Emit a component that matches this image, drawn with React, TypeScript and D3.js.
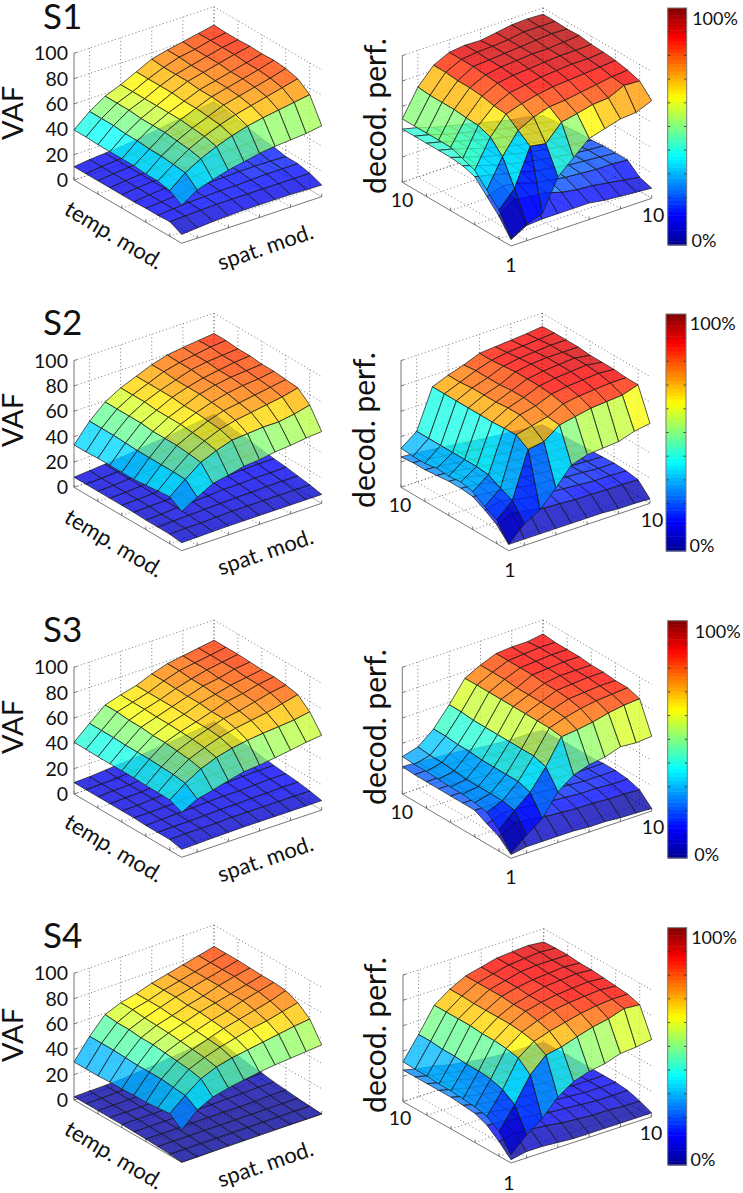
import React from "react";
import * as d3 from "d3";

// ---------- data: rows run along temp. mod. index (front to left), columns along spat. mod. index (front to right)
const vafS1Top = [
  [30,38,42,45.5,48,50.5,52,53,54,56],
  [36,46,53,58.5,63,66.5,69,71,73,75],
  [38,47,55,61,66,70,73,76,79,82],
  [38,48,56,62,67,72,75,78,81,84.5],
  [39,48,57,63,68,73,76,79,82,85.5],
  [39,49,57,63,68,73,76,79,82,85],
  [39,49,57,63,69,74,77,80,83,85.5],
  [39,50,58,63,69,74,77,80,83,85],
  [39.5,50,58,63,69,74,78,80,83,85],
  [39.5,50,58,63,69,75,78,80.5,83,85.5],
];
const vafS1Low = [
  [7,8,9,9.5,10,10,10,10,9.5,9.2],
  [11.6,12,12.5,13,13,13,13,13,13,13],
  [11,12,13,13.5,14,14,14.5,15,15,15],
  [11,12,13,14,14.5,15,15.5,15.5,15.5,15],
  [10.5,12,13,14,15,15.5,16,16.5,17,17],
  [10.5,12,13,14,15,16,17,17.5,18,18],
  [10.5,12,13,14,15,16,17.5,19,19.5,20],
  [10.5,12,13,14,15,16.5,18,20,21,22],
  [10.5,12,13,14,15.5,17,18.5,20.5,22,24],
  [10.5,12,13,14,15.5,17,19,21,23,25],
];
const vafS2Top = [
  [31,38,44.7,47,50,51,53,54,55.7,56.6],
  [37,46.6,55.8,61,65,66,67,67,69,72],
  [36,47,57,63,68,71,73,75,77,80],
  [35,47,58,64,69,73,75,77,79,81],
  [34,47,58,65,70,74,77,79,80,82],
  [34,47,58,65,70,75,78,80,81,82],
  [34,47.5,59,65,71,75,78,80,82,83],
  [34,48,59,66,71,75,79,81,82,83],
  [33.5,48,59,66,71,76,79,81,83,84],
  [33.4,48,59,66,71,76,79.5,81.3,82.6,84],
];
const vafS2Low = [
  [6.3,6.5,6.8,7,7,7,7,7,7,7],
  [7.5,8,8,8.5,9,9,9,9,9,9],
  [7.5,8,8.5,9,9.5,10,10,10.5,10.5,10.5],
  [7.5,8,9,9.5,10,11,11,11.5,11.5,12],
  [8,8.5,9,10,11,11.5,12,12.5,13,13],
  [8,8.5,9,10,11,12,13,13.5,14,14.5],
  [8,8.5,9.5,10.5,11.5,12.5,13.5,14.5,15,16],
  [8,8.5,9.5,10.5,12,13,14,15,16,17],
  [8,8.5,9.5,11,12,13.5,15,16,17,18.5],
  [8,9,10,11,12.5,14,15,17,18.5,20],
];
const vafS3Top = [
  [35.5,41.8,44.7,48,51,52,53.7,55.5,57.6,59],
  [39.7,48.7,56,60.8,64,66,67.5,68.5,69.7,72],
  [40,50,58,63,67,70,72,74,77,80],
  [40,50.5,59,64,68,72,74,77,80,82],
  [40.5,51,60,64.5,68,72,76,78,81,83],
  [40.5,51,60,65,68.5,73,76,79,81,83],
  [40.5,51,61,65,69,73,77,79,82,83.5],
  [40.5,51.5,61,65.5,69,73.5,77,80,82,84],
  [40.8,51.5,62,65.5,69,74,78,80,82,84],
  [40.8,51.6,62,65.8,69,74,78,80,82,84],
];
const vafS3Low = [
  [6.3,6.6,7,7.2,7.4,7.4,7.4,7.4,7.4,7.4],
  [8.5,9,9,9,9.5,9.5,9.5,9.5,9.5,9.5],
  [8.5,9,9,9.5,10,10,10.5,10.5,11,11],
  [8.5,9,9.5,10,10.5,11,11,11.5,12,12],
  [9,9,9.5,10,11,11.5,12,12.5,13,13],
  [9,9,10,10.5,11,12,13,13.5,14,14.5],
  [9,9.5,10,11,11.5,12.5,13.5,14.5,15,16],
  [9,9.5,10,11,12,13,14,15,16,17],
  [9,9.5,10,11,12,13.5,15,16,17,18.5],
  [9,9.5,10.5,11.5,12.5,14,15,16.5,18,19.7],
];
const vafS4Top = [
  [25.5,37,43,46,48,50,51.5,52.5,53.5,54.5],
  [33,43,52,57,60,62,64,66,68,69.5],
  [32,44,54,59,63,66,69,71,74,77],
  [31,45,55,60,64,68,71,74,77,81],
  [31,45,56,61,65,69,72,76,79,82],
  [30.5,45,57,62,66,70,73,76,79,82],
  [30.5,45.5,57,62.5,66,70,73,77,80,82.5],
  [30,46,58,63,67,71,74,77,80,83],
  [30,46,58,64,67,71,74,77,80,83],
  [30,46,59,64,67,71,74,77,80,83],
];
const vafS4Low = [
  [0,0,0.2,0.3,0.3,0.3,0.3,0.2,0.1,0],
  [1,1,1,1,1,1,1,1,1,0.8],
  [1.5,1.5,1.5,1.5,1.5,1.5,1.5,1.5,1.5,1.5],
  [2,2,2,2,2,2,2,2,2.5,2.5],
  [2.2,2.2,2.2,2.3,2.5,2.5,3,3,3.5,3.5],
  [2.5,2.5,2.5,2.5,3,3,3.5,4,4.5,5],
  [2.5,2.5,2.5,3,3,3.5,4,5,5.5,6],
  [2.6,2.6,2.8,3,3.5,4,5,6,7,8],
  [2.6,2.6,3,3.5,4,5,6,7,8,10],
  [2.6,2.8,3,3.5,4.5,5.5,7,8,10,12],
];
const decS1Top = [
  [6,13,17,42,53,64,67.5,71,72,77],
  [22.8,35.6,64.7,62.6,75.4,78,81,82,87.7,87],
  [33,55,71.7,78,82,83,85,87,89,90],
  [43,65,79,83,86,88,89,90,91,92],
  [46.6,68.5,80,86,88,90,91,92,92,93],
  [50,69,82,88,90,91,92,93,93,93.5],
  [50,70,83,89,91,92,93,93,94,95],
  [50,70,83,90,91,92,93,94,95,94.5],
  [50,70,84,90,91.5,92,93,95,95,95],
  [50,71,84,90,91.5,91,93,95,95.5,95],
];
const decS1Low = [
  [5,12,13,13,13,13,11,10,9,8],
  [18,27,25,24,20,18,17,15,13,11],
  [28,32,30,26,24,22,21,20,20,19],
  [38,35,32,29,26,24,22,21,20,19],
  [41,37,33,30,27,25,23,21,20,19],
  [42,38,34,31,28,25,23,21,19,18],
  [42,39,35,31,28,25,23,21,19,18],
  [42,39,35,32,28,26,23,21,19,17],
  [42,39,35,32,29,26,23,21,19,16],
  [42,39,35,32,29,26,23,20,18,15],
];
const decS2Top = [
  [5,17,24,37,51,55,56,57,61,63],
  [18.7,30,66,68,77,79.5,82,83,84,88],
  [23.7,34,72,75,78,84,86,87,88,88],
  [30,39,71.6,78,81,86,88,89,90,89],
  [32,40,71,78,82,87,89,90,91,89],
  [31,40,71,77,82,87,89,90,91,89],
  [31.6,40,71,77,81,87,89,90,90,90],
  [30,40,71,77,81,86,88,89,90,90],
  [30,40,71,76,81,85,87,88,89,90],
  [30.8,40,71,76,80,85,86,87,88,89.5],
];
const decS2Low = [
  [5,5,5,5,5,5,5,4,4,3.4],
  [15,20,18,15.5,15,14,14,13.5,13.5,13],
  [21,24,21,19,18,17,16,15,15,14.5],
  [26,25,23,21,19,18,16.5,16,15,15],
  [27,26,23,21,19,18,16.5,15.5,15,14.5],
  [27,26,23,21,19,18,16.5,15.5,15,14],
  [26,25,23,21,19,17.5,16,15,14,13.5],
  [25,24,22,20.5,19,17,15.5,14.5,13.5,13],
  [25,24,22,20.5,18.5,17,15,14.5,13,12.5],
  [24,23,21.5,20,18.5,17,15.5,14.5,13,12],
];
const decS3Top = [
  [4,14,23,40,49,53,55,59,58,59],
  [17,28,38,54,73.7,75,77,80,82,83],
  [25,30,41,57,75,79,82,84,85,86],
  [27,30,41,57,75,80,84,85,86,86],
  [28,30,41,57,75,80,85,86,87,87],
  [28,30,41,57,75,80,85,87,87,87],
  [28.5,31,42,57,75,80,86,87,88,88],
  [29,32,42,57,75,81,86,87,88,88],
  [29,32,43,58,75,81,86,87,88,88],
  [29.5,33,43,58,74.7,81,86,87,87,89],
];
const decS3Low = [
  [3,5,5,5,5,4,4,3,2.5,2],
  [11.5,18,17,15,14,13,13,12,12,11],
  [16,20,20,18,17,16,15,15,14,14],
  [21,21,21,19,18,17,16,15,15,15],
  [21,21,21,20,18,17,16,15,15,15],
  [21,21,20,19,18,17,16,15,15,14],
  [21,21,20,19,18,17,16,15,14,14],
  [21,21,20,19,18,17,16,15,14,14],
  [21,21,20,19,18,16,15,15,14,13],
  [21.6,21,20,19,18,16,15,14,14,13],
];
const decS4Top = [
  [6.6,18,27,40,48,52,54,58,59,61],
  [19.5,36.5,56,67.6,70,74,77.6,80,84,83],
  [26,43,64,73,77,80,83,85,86,86],
  [28,46,66,75,80,84,86,87,88,87],
  [29,47,67,76,82,85,87,88,89,88],
  [30,47,67,76,82,85,88,89,90,89],
  [30,48,68,76,83,86,88,89,90,89],
  [31,48,68,76,83,86,89,90,90,90],
  [31,49,68,76.6,83,86,89,90,91,90],
  [31.6,49,68,76.6,83,86,89,90,90.8,89.5],
];
const decS4Low = [
  [2.6,5,5,4,3,3,3,3,3,3],
  [11.6,14,13,12,10,9,8,8,7,7],
  [19,18,16,15,13,12,11,10,10,10],
  [23,20,18,16,15,13,12,11,11,11],
  [24,21,19,17,15,14,12,11,11,11],
  [25,22,19,17,15,14,12,11,11,11],
  [25,22,19,17,15,14,12,11,11,11],
  [25,22,20,17,15,14,12,11,11,11],
  [25,22,20,17,15,13,12,11,11,10.5],
  [25,22,20,17,15,13,12,11,11,10.5],
];
const zTicks = [0, 20, 40, 60, 80, 100];
const gridTicks = [1, 3, 5, 7, 9];
const subjects = ["S1", "S2", "S3", "S4"];

// ---------- layout
type P = [number, number];
const FONT = "Lato, 'Open Sans', sans-serif";
const H = 126.7;
const vafBoxes: { front: P; left: P; right: P }[] = [
  { front: [181.7, 243.3], left: [74, 180], right: [321.7, 196.7] },
  { front: [181.7, 550.7], left: [74, 487.3], right: [321.7, 503.3] },
  { front: [181.7, 857.3], left: [74, 794], right: [321.7, 810] },
  { front: [181.7, 1162.3], left: [74, 1100], right: [321.7, 1114] },
];
const decBoxes: { front: P; left: P; right: P }[] = [
  { front: [511, 246], left: [402.3, 182.3], right: [651.7, 198.3] },
  { front: [508.7, 550.7], left: [401, 487.3], right: [650, 503.3] },
  { front: [511, 858.3], left: [402.3, 794], right: [651.7, 811] },
  { front: [511, 1163], left: [403, 1101.7], right: [651.7, 1116.7] },
];
const titleY = [29, 335, 642, 948];
const vafLabelY = [113, 420, 727, 1035];
const tempLabel: P[] = [[113, 237], [113, 545], [113, 850], [113, 1157]];
const spatLabel: P[] = [[266, 249], [266, 554], [266, 861], [266, 1166]];
const decLabel: P[] = [[386, 116], [375, 430], [386, 727], [386, 1035]];
const corner10L: P[] = [[402, 200], [400, 505], [401.7, 811.7], [400, 1118]];
const corner10R: P[] = [[653, 215], [652, 520], [653, 826.7], [651, 1133]];
const corner1: P[] = [[511, 265], [510, 570], [511, 876.7], [509, 1183]];
const bars = [
  { x0: 667.7, x1: 686.7, y0: 8, y1: 245, top: [715, 18] as P, bot: [704, 240] as P },
  { x0: 666, x1: 686, y0: 314, y1: 551, top: [712.7, 323] as P, bot: [702, 545] as P },
  { x0: 667.7, x1: 687.3, y0: 620.7, y1: 858, top: [717.7, 631.7] as P, bot: [706.7, 854] as P },
  { x0: 667.7, x1: 686.7, y0: 927.7, y1: 1165, top: [714, 937] as P, bot: [703, 1159] as P },
];

// ---------- colour
const jetCurve = d3.scaleLinear<string>()
  .domain([0, 0.125, 0.375, 0.625, 0.875, 1])
  .range(["#000090", "#0000ff", "#00ffff", "#ffff00", "#ff0000", "#800000"])
  .clamp(true);
const levelOf = d3.scaleQuantize<number>().domain([0, 100]).range(d3.range(64));
const jet = (z: number) => jetCurve((levelOf(z) + 0.5) / 64);

function Surface({ z, project }: { z: number[][]; project: (u: number, v: number, w: number) => P }) {
  const line = d3.line<P>();
  const faces: React.ReactNode[] = [];
  for (let v = z.length - 2; v >= 0; v--) {
    for (let u = z[0].length - 2; u >= 0; u--) {
      const pts: P[] = [
        project(u, v, z[v][u]),
        project(u + 1, v, z[v][u + 1]),
        project(u + 1, v + 1, z[v + 1][u + 1]),
        project(u, v + 1, z[v + 1][u]),
      ];
      faces.push(
        <path key={`${v}-${u}`} d={line(pts)! + "Z"} fill={jet(z[v][u])} fillOpacity={0.78}
          stroke="#1a1a1a" strokeOpacity={0.85} strokeWidth={0.85} strokeLinejoin="round" />
      );
    }
  }
  return <g>{faces}</g>;
}

function Panel({ box, top, low, showZ }: { box: { front: P; left: P; right: P }; top: number[][]; low: number[][]; showZ: boolean }) {
  const { front, left, right } = box;
  const uX = d3.scaleLinear().domain([0, 9]).range([0, right[0] - front[0]]);
  const uY = d3.scaleLinear().domain([0, 9]).range([0, right[1] - front[1]]);
  const vX = d3.scaleLinear().domain([0, 9]).range([0, left[0] - front[0]]);
  const vY = d3.scaleLinear().domain([0, 9]).range([0, left[1] - front[1]]);
  const zY = d3.scaleLinear().domain([0, 100]).range([0, -H]);
  const project = (u: number, v: number, w: number): P => [front[0] + uX(u) + vX(v), front[1] + uY(u) + vY(v) + zY(w)];
  const seg = (a: P, b: P, k: string, extra: any) => <line key={k} x1={a[0]} y1={a[1]} x2={b[0]} y2={b[1]} {...extra} />;
  const dotted = { stroke: "#555", strokeWidth: 0.8, strokeDasharray: "1 2.6" };
  const solid = { stroke: "#777", strokeWidth: 1 };
  return (
    <g>
      {zTicks.map((t) => (
        <g key={t}>
          {seg(project(0, 9, t), project(9, 9, t), `a${t}`, dotted)}
          {seg(project(9, 9, t), project(9, 0, t), `b${t}`, dotted)}
        </g>
      ))}
      {gridTicks.map((t) => (
        <g key={t}>
          {seg(project(t, 9, 0), project(t, 9, 100), `c${t}`, dotted)}
          {seg(project(9, t, 0), project(9, t, 100), `d${t}`, dotted)}
          {seg(project(t, 0, 0), project(t, 9, 0), `e${t}`, dotted)}
          {seg(project(0, t, 0), project(9, t, 0), `f${t}`, dotted)}
        </g>
      ))}
      {seg(project(0, 9, 0), project(0, 9, 100), "zaxis", solid)}
      {seg(project(0, 9, 0), project(0, 0, 0), "ledge", solid)}
      {seg(project(0, 0, 0), project(9, 0, 0), "redge", solid)}
      {zTicks.map((t) => {
        const p = project(0, 9, t);
        return seg(p, [p[0] + 3, p[1] - 1], `zt${t}`, solid);
      })}
      {gridTicks.map((t) => {
        const a = project(t, 0, 0);
        const b = project(0, t, 0);
        return (
          <g key={t}>
            {seg(a, [a[0], a[1] - 3], `ut${t}`, solid)}
            {seg(b, [b[0], b[1] - 3], `vt${t}`, solid)}
          </g>
        );
      })}
      <Surface z={low} project={project} />
      <Surface z={top} project={project} />
      {showZ && zTicks.map((t) => {
        const p = project(0, 9, t);
        return (
          <text key={t} x={p[0] - 6} y={p[1] + 7} textAnchor="end" fontFamily={FONT} fontSize={19.5} fill="#111">{t}</text>
        );
      })}
    </g>
  );
}

function ColorBar({ b }: { b: (typeof bars)[number] }) {
  const levels = d3.range(64);
  const y = d3.scaleBand<number>().domain(levels).range([b.y1, b.y0]);
  const tick = d3.scaleLinear().domain([0, 100]).range([b.y1, b.y0]);
  return (
    <g>
      {levels.map((l) => (
        <rect key={l} x={b.x0} y={y(l)!} width={b.x1 - b.x0} height={y.bandwidth() + 0.5} fill={jetCurve((l + 0.5) / 64)} />
      ))}
      {d3.range(10, 100, 10).map((t) => (
        <g key={t} stroke="#222" strokeWidth={0.8}>
          <line x1={b.x0} x2={b.x0 + 2.5} y1={tick(t)} y2={tick(t)} />
          <line x1={b.x1 - 2.5} x2={b.x1} y1={tick(t)} y2={tick(t)} />
        </g>
      ))}
      <rect x={b.x0} y={b.y0} width={b.x1 - b.x0} height={b.y1 - b.y0} fill="none" stroke="#777" strokeWidth={1} />
      <text x={b.top[0]} y={b.top[1] + 6.5} textAnchor="middle" fontFamily={FONT} fontSize={18} fill="#111">100%</text>
      <text x={b.bot[0]} y={b.bot[1] + 6.5} textAnchor="middle" fontFamily={FONT} fontSize={18} fill="#111">0%</text>
    </g>
  );
}

const vafTop = [vafS1Top, vafS2Top, vafS3Top, vafS4Top];
const vafLow = [vafS1Low, vafS2Low, vafS3Low, vafS4Low];
const decTop = [decS1Top, decS2Top, decS3Top, decS4Top];
const decLow = [decS1Low, decS2Low, decS3Low, decS4Low];

export default function App() {
  return (
    <svg width={743} height={1193} style={{ position: "absolute", left: 0, top: 0, background: "#fff" }}>
      {subjects.map((s, i) => (
        <g key={s}>
          <text x={43} y={titleY[i]} fontFamily={FONT} fontSize={35} fill="#111">{s}</text>
          <text transform={`translate(23,${vafLabelY[i]}) rotate(-90)`} textAnchor="middle" fontFamily={FONT} fontSize={29} fill="#111">VAF</text>
          <text transform={`translate(${tempLabel[i][0]},${tempLabel[i][1]}) rotate(31)`} textAnchor="middle" dominantBaseline="middle" fontFamily={FONT} fontSize={22.3} fill="#111">temp. mod.</text>
          <text transform={`translate(${spatLabel[i][0]},${spatLabel[i][1]}) rotate(-19)`} textAnchor="middle" dominantBaseline="middle" fontFamily={FONT} fontSize={22} fill="#111">spat. mod.</text>
          <Panel box={vafBoxes[i]} top={vafTop[i]} low={vafLow[i]} showZ />
          <text transform={`translate(${decLabel[i][0]},${decLabel[i][1]}) rotate(-90)`} textAnchor="middle" fontFamily={FONT} fontSize={30} fill="#111">decod. perf.</text>
          <Panel box={decBoxes[i]} top={decTop[i]} low={decLow[i]} showZ={false} />
          <text x={corner10L[i][0]} y={corner10L[i][1] + 7} textAnchor="middle" fontFamily={FONT} fontSize={19.5} fill="#111">10</text>
          <text x={corner10R[i][0]} y={corner10R[i][1] + 7} textAnchor="middle" fontFamily={FONT} fontSize={19.5} fill="#111">10</text>
          <text x={corner1[i][0]} y={corner1[i][1] + 7} textAnchor="middle" fontFamily={FONT} fontSize={19.5} fill="#111">1</text>
          <ColorBar b={bars[i]} />
        </g>
      ))}
    </svg>
  );
}
